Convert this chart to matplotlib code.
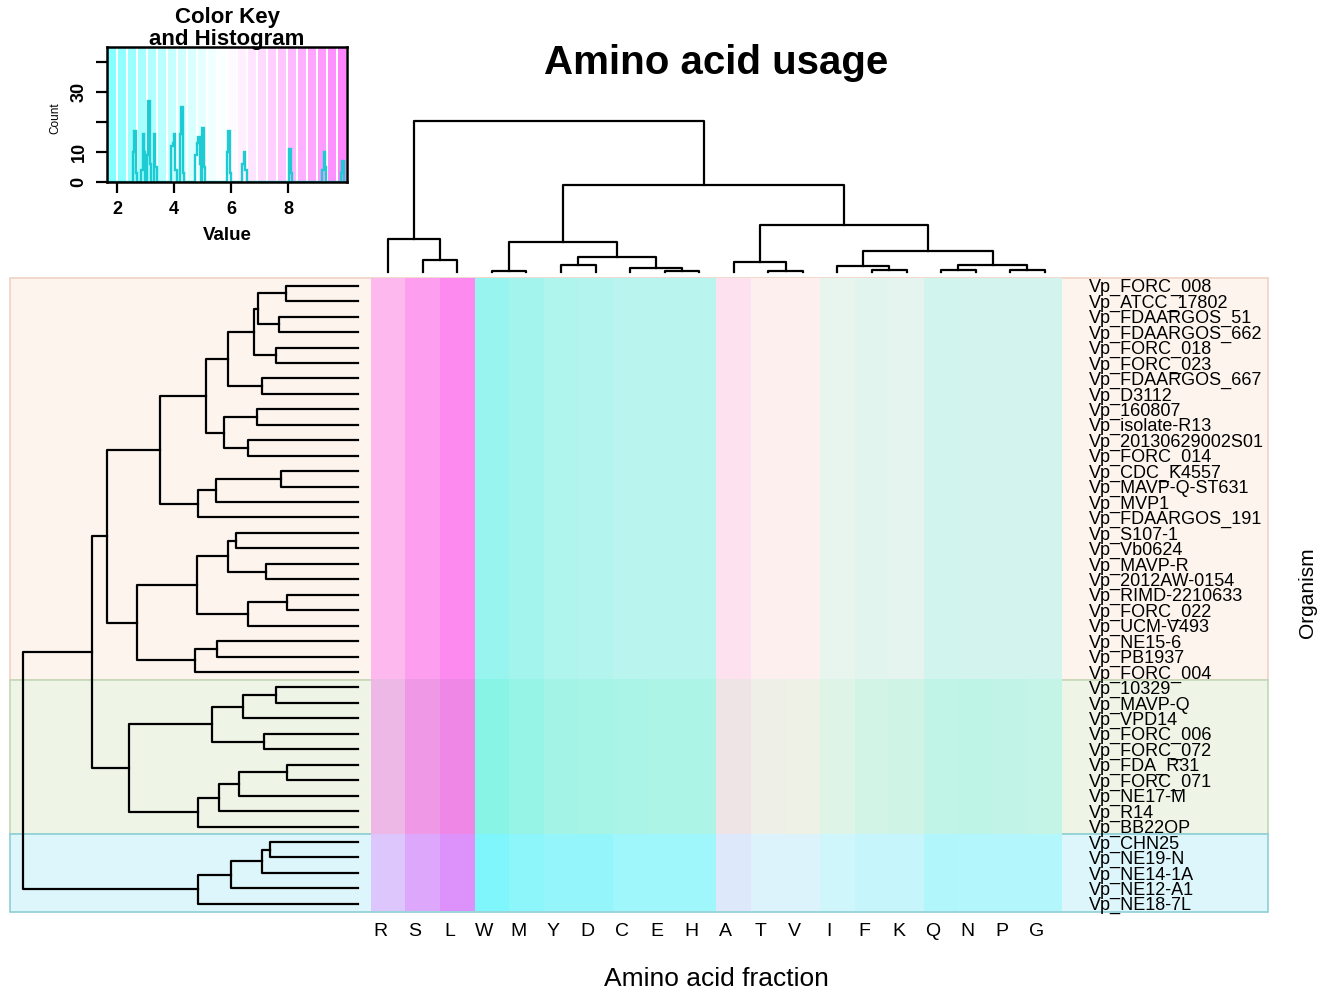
import numpy as np
import matplotlib
matplotlib.use('Agg')
import matplotlib.pyplot as plt
from matplotlib.colors import LinearSegmentedColormap, Normalize, to_rgb
from matplotlib.patches import Rectangle
from matplotlib.transforms import ScaledTranslation

plt.rcParams['font.family'] = ['Liberation Sans', 'DejaVu Sans']

# Columns (amino acids) in dendrogram order
amino_acids = ['R', 'S', 'L', 'W', 'M', 'Y', 'D', 'C', 'E', 'H',
               'A', 'T', 'V', 'I', 'F', 'K', 'Q', 'N', 'P', 'G']

# Rows (organisms) in dendrogram order
organisms = ['Vp_FORC_008', 'Vp_ATCC_17802', 'Vp_FDAARGOS_51', 'Vp_FDAARGOS_662',
             'Vp_FORC_018', 'Vp_FORC_023', 'Vp_FDAARGOS_667', 'Vp_D3112',
             'Vp_160807', 'Vp_isolate-R13', 'Vp_20130629002S01', 'Vp_FORC_014',
             'Vp_CDC_K4557', 'Vp_MAVP-Q-ST631', 'Vp_MVP1', 'Vp_FDAARGOS_191',
             'Vp_S107-1', 'Vp_Vb0624', 'Vp_MAVP-R', 'Vp_2012AW-0154',
             'Vp_RIMD-2210633', 'Vp_FORC_022', 'Vp_UCM-V493', 'Vp_NE15-6',
             'Vp_PB1937', 'Vp_FORC_004', 'Vp_10329', 'Vp_MAVP-Q', 'Vp_VPD14',
             'Vp_FORC_006', 'Vp_FORC_072', 'Vp_FDA_R31', 'Vp_FORC_071',
             'Vp_NE17-M', 'Vp_R14', 'Vp_BB22OP', 'Vp_CHN25', 'Vp_NE19-N',
             'Vp_NE14-1A', 'Vp_NE12-A1', 'Vp_NE18-7L']

# Organism groups (row side colours)
group_sizes = [26, 10, 5]
group_fill = ['#FDF4EE', '#EEF4E6', '#DDF6FB']
group_edge = ['#F0D2C4', '#C5D6B5', '#8ECFD6']

# Amino acid fraction (%) per group, same order as amino_acids
usage_group1 = [7.9, 8.8, 9.5, 2.5, 2.9, 3.3, 3.4, 3.6, 3.6, 3.6,
                6.5, 6.0, 6.0, 5.2, 5.0, 5.1, 4.4, 4.5, 4.5, 4.5]
usage_group2 = [7.9, 9.0, 9.6, 2.25, 2.75, 3.2, 3.35, 3.45, 3.5, 3.55,
                6.4, 6.0, 5.9, 5.3, 4.9, 4.8, 4.2, 4.15, 4.3, 4.4]
usage_group3 = [7.5, 8.5, 9.3, 2.3, 2.8, 3.1, 3.1, 3.5, 3.5, 3.5,
                6.3, 5.95, 5.95, 5.35, 5.0, 5.0, 4.15, 4.3, 4.3, 4.3]

# Row dendrogram merges: (cluster a, cluster b, height); ids >= 41 are earlier merges
row_linkage = [
    (0, 1, 2.15), (2, 3, 2.36), (4, 5, 2.45), (41, 42, 2.99), (44, 43, 3.10),
    (6, 7, 2.87), (45, 46, 3.88), (8, 9, 3.01), (10, 11, 3.28), (48, 49, 4.00),
    (47, 50, 4.54), (12, 13, 2.30), (52, 14, 4.24), (53, 15, 4.78), (51, 54, 5.91),
    (16, 17, 3.64), (18, 19, 2.75), (56, 57, 3.88), (20, 21, 2.12), (59, 22, 3.28),
    (58, 60, 4.81), (23, 24, 4.21), (62, 25, 4.87), (61, 63, 6.60), (55, 64, 7.49),
    (26, 27, 2.45), (66, 28, 3.43), (29, 30, 2.81), (67, 68, 4.36), (31, 32, 2.12),
    (70, 33, 3.55), (71, 34, 4.15), (72, 35, 4.78), (69, 73, 6.84), (65, 74, 7.94),
    (36, 37, 2.63), (76, 38, 2.87), (77, 39, 3.79), (78, 40, 4.78), (75, 79, 10.0),
]

# Column dendrogram merges; ids >= 20 are earlier merges
col_linkage = [
    (1, 2, 0.77), (0, 20, 2.20), (3, 4, 0.05), (5, 6, 0.48), (8, 9, 0.08),
    (7, 24, 0.26), (23, 25, 0.99), (22, 26, 1.98), (11, 12, 0.08), (10, 28, 0.66),
    (14, 15, 0.10), (13, 30, 0.42), (16, 17, 0.15), (18, 19, 0.12), (32, 33, 0.44),
    (31, 34, 1.41), (29, 35, 3.08), (27, 36, 5.79), (21, 37, 10.0),
]

# Colour key histogram (bin start, count), bins of 0.05
hist_value = [2.55, 2.60, 2.65, 2.85, 2.90, 2.95, 3.05, 3.10, 3.15, 3.30, 3.35,
              3.90, 3.95, 4.00, 4.05, 4.20, 4.25, 4.30, 4.75, 4.80, 4.85, 4.90,
              5.00, 5.05, 5.85, 5.90, 5.95, 6.40, 6.45, 6.50, 8.05, 8.10,
              9.20, 9.25, 9.30, 9.85, 9.90]
hist_count = [10, 17, 3, 4, 16, 10, 9, 27, 6, 16, 5,
              12, 13, 16, 4, 16, 25, 3, 9, 13, 15, 6,
              18, 5, 10, 17, 3, 6, 10, 4, 11, 3,
              4, 10, 5, 3, 7]
value_min, value_max = 1.65, 10.07
key_colors = 24

W, H = 1322, 990
cmap = LinearSegmentedColormap.from_list('cm_colors', ['#80FFFF', '#FFFFFF', '#FF80FF'])
norm = Normalize(value_min, value_max)


def px_axes(fig, x0, y0, x1, y1):
    return fig.add_axes([x0 / W, 1 - y1 / H, (x1 - x0) / W, (y1 - y0) / H])


def fig_text(fig, x, y, s, **kw):
    fig.text(x / W, 1 - y / H, s, ha='center', va='center', **kw)


# Lines of a dendrogram from a merge list
def dendro_lines(linkage, n):
    pos = {i: i + 0.5 for i in range(n)}
    hgt = {i: 0.0 for i in range(n)}
    lines = []
    for k, (a, b, h) in enumerate(linkage):
        lines.append(([pos[a], pos[a], pos[b], pos[b]], [hgt[a], h, h, hgt[b]]))
        pos[n + k] = (pos[a] + pos[b]) / 2
        hgt[n + k] = h
    return lines


def main():
    fig = plt.figure(figsize=(W / 100, H / 100), dpi=100)
    n_rows, n_cols = len(organisms), len(amino_acids)
    top, bottom = 278, 911.5

    # Group backgrounds
    ax_bg = px_axes(fig, 10, top, 1268, bottom)
    ax_bg.set_xlim(0, 1)
    ax_bg.set_ylim(n_rows, 0)
    start = 0
    for size, fc, ec in zip(group_sizes, group_fill, group_edge):
        ax_bg.add_patch(Rectangle((0, start), 1, size, facecolor=fc, edgecolor=ec,
                                  lw=1.2, clip_on=False))
        start += size
    ax_bg.axis('off')

    # Heatmap, coloured with the key and blended with the group colour
    groups = [usage_group1, usage_group2, usage_group3]
    values = np.vstack([np.tile(g, (s, 1)) for g, s in zip(groups, group_sizes)])
    row_bg = np.vstack([np.tile(to_rgb(c), (s, 1)) for c, s in zip(group_fill, group_sizes)])
    rgb = cmap(norm(values))[:, :, :3] * row_bg[:, None, :]

    ax = px_axes(fig, 371, top, 1062, bottom)
    ax.imshow(rgb, extent=(0, n_cols, n_rows, 0), aspect='auto', interpolation='nearest')
    ax.set_facecolor('none')
    for sp in ax.spines.values():
        sp.set_visible(False)
    ax.set_xticks(np.arange(n_cols) + 0.5)
    ax.set_xticklabels(amino_acids, fontsize=14)
    ax.yaxis.tick_right()
    ax.set_yticks(np.arange(n_rows) + 0.5)
    ax.set_yticklabels(organisms, fontsize=13)
    ax.tick_params(axis='x', length=0, pad=8)
    ax.tick_params(axis='y', length=0, pad=19.5)
    for lbl in ax.get_xticklabels():
        lbl.set_transform(lbl.get_transform() + ScaledTranslation(-0.08, 0, fig.dpi_scale_trans))

    # Row dendrogram
    ax_rd = px_axes(fig, 23, top, 358, bottom)
    for ps, hs in dendro_lines(row_linkage, n_rows):
        ax_rd.plot(hs, ps, color='black', lw=1.6, clip_on=False)
    ax_rd.set_xlim(10, 0)
    ax_rd.set_ylim(n_rows, 0)
    ax_rd.axis('off')

    # Column dendrogram
    ax_cd = px_axes(fig, 371, 121, 1062, 272)
    for ps, hs in dendro_lines(col_linkage, n_cols):
        ax_cd.plot(ps, hs, color='black', lw=1.6, clip_on=False)
    ax_cd.set_xlim(0, n_cols)
    ax_cd.set_ylim(0, 10)
    ax_cd.axis('off')

    # Colour key and histogram
    ax_k = px_axes(fig, 107, 47, 347, 182)
    edges = np.linspace(value_min, value_max, key_colors + 1)
    centers = (edges[:-1] + edges[1:]) / 2
    ax_k.bar(centers, 45, width=(edges[1] - edges[0]) * 0.78,
             color=cmap(norm(centers)), linewidth=0)
    bins = np.arange(value_min, value_max, 0.05)
    counts = np.zeros(len(bins) - 1)
    for v, c in zip(hist_value, hist_count):
        counts[int(round((v - value_min) / 0.05))] = c
    ax_k.stairs(counts, bins, color='#1FCBD3', lw=1.7)
    ax_k.set_xlim(value_min, value_max)
    ax_k.set_ylim(0, 45)
    ax_k.set_xticks([2, 4, 6, 8])
    ax_k.set_xticklabels(['2', '4', '6', '8'], fontsize=13, fontweight='bold')
    ax_k.set_yticks([0, 10, 20, 30, 40])
    ax_k.set_yticklabels(['0', '10', '', '30', ''], fontsize=13, fontweight='bold',
                         rotation=90, va='center')
    ax_k.tick_params(length=8, width=1.6, pad=6)
    for sp in ax_k.spines.values():
        sp.set_linewidth(1.8)

    fig_text(fig, 227, 17, 'Color Key', fontsize=16, fontweight='bold')
    fig_text(fig, 227, 40, 'and Histogram', fontsize=16, fontweight='bold')
    fig_text(fig, 227, 235, 'Value', fontsize=13.5, fontweight='bold')
    fig_text(fig, 55, 118, 'Count', fontsize=8.5, rotation=90)

    # Titles
    fig_text(fig, 716, 63, 'Amino acid usage', fontsize=29, fontweight='bold')
    fig_text(fig, 716, 979, 'Amino acid fraction', fontsize=19)
    fig_text(fig, 1308, 593, 'Organism', fontsize=15, rotation=90)

    fig.savefig('out.png', dpi=100)


if __name__ == '__main__':
    main()
